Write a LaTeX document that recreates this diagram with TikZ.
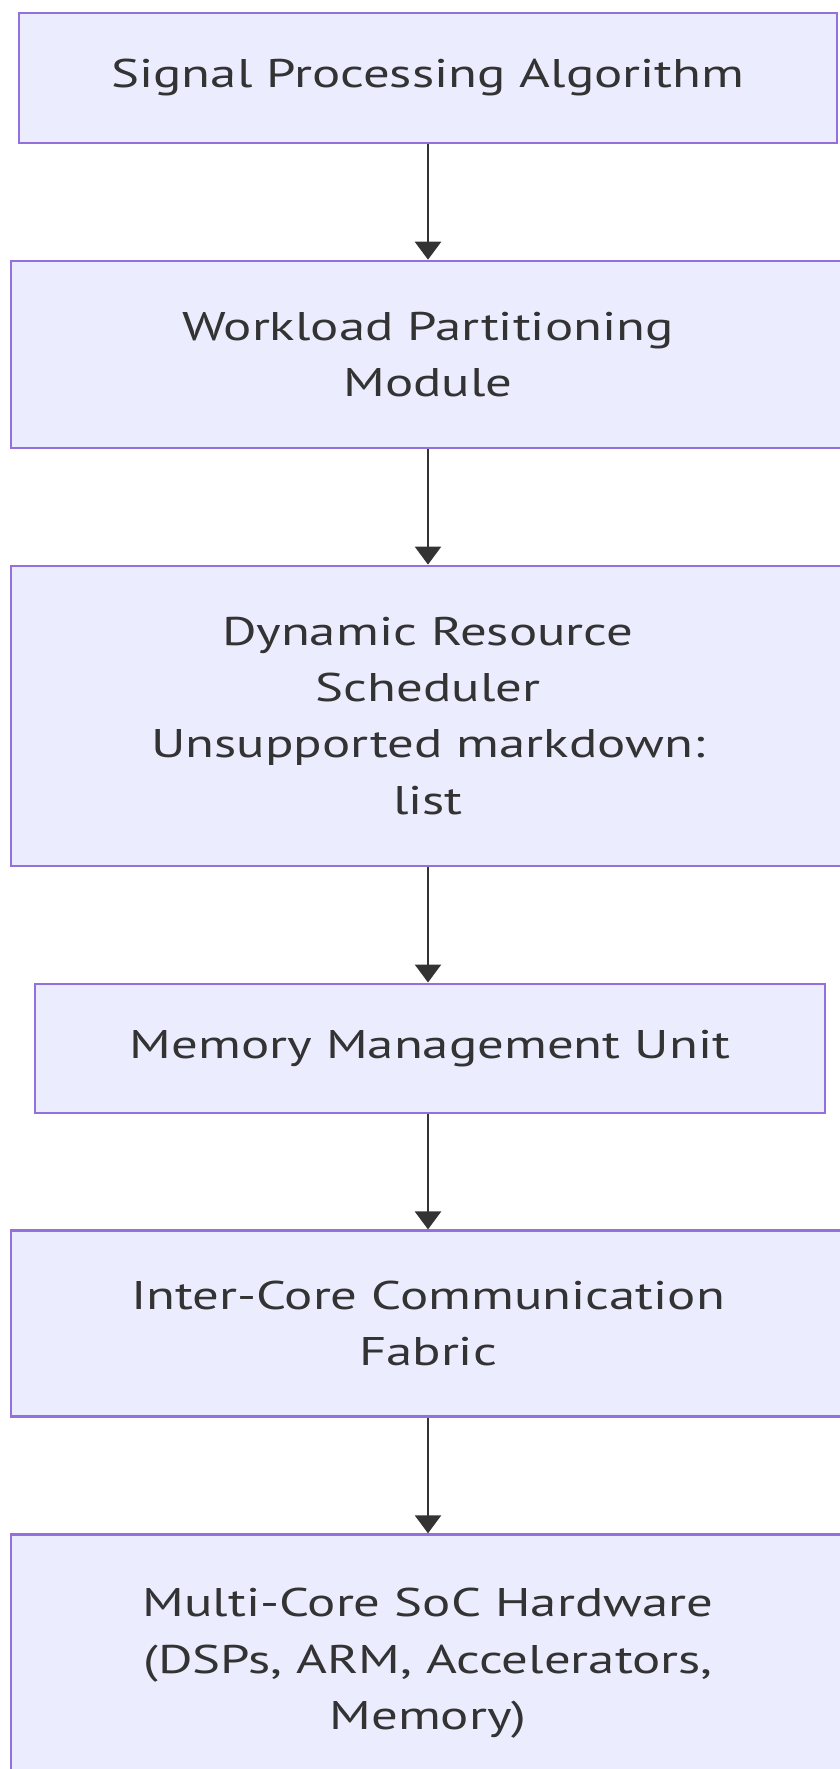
\documentclass[tikz,border=0pt]{standalone}
\usepackage{fontspec}
\setmainfont[FakeStretch=1.32]{PT Sans}
\usepackage{tikz}
\usetikzlibrary{positioning, arrows.meta}

\begin{document}
\begin{tikzpicture}[node distance=115.5pt, align=center, >={Triangle[width=26pt,length=18pt]}, line width=2.4pt,
    block/.style={draw=boxborder, fill=boxfill, text=textgray, minimum width=834pt, inner sep=0pt, font=\fontsize{40}{56.4}\selectfont}]
        % Define colors
        \definecolor{boxfill}{HTML}{ECECFF}
        \definecolor{boxborder}{HTML}{9370DB}
        \definecolor{textgray}{HTML}{333333}

        \useasboundingbox (0pt,0pt) rectangle (840pt,-1769pt);

        % Nodes
        \node[block, minimum width=818pt, minimum height=130pt] (algo) at (428pt,-78pt) {Signal Processing Algorithm};
        \node[block, below=of algo, minimum height=187pt] (partition) {Workload Partitioning\\Module};
        \node[block, below=of partition, minimum height=300pt] (sched) {Dynamic Resource\\Scheduler\\Unsupported markdown:\\list};
        \node[block, below=of sched, xshift=2pt, minimum width=790pt, minimum height=129pt] (mmu) {Memory Management Unit};
        \node[block, below=of mmu, xshift=-2pt, minimum height=186pt] (fabric) {Inter-Core Communication\\Fabric};
        \node[block, below=of fabric, minimum height=258pt] (soc) {Multi-Core SoC Hardware\\(DSPs, ARM, Accelerators,\\Memory)};

        % Edges
        \foreach \from/\to in {algo/partition, partition/sched, sched/mmu, mmu/fabric, fabric/soc} {
            \draw[->, draw=textgray, fill=textgray, line width=2.6pt] (\from.south -| algo) -- (\to.north -| algo);
        }
    \end{tikzpicture}
\end{document}
